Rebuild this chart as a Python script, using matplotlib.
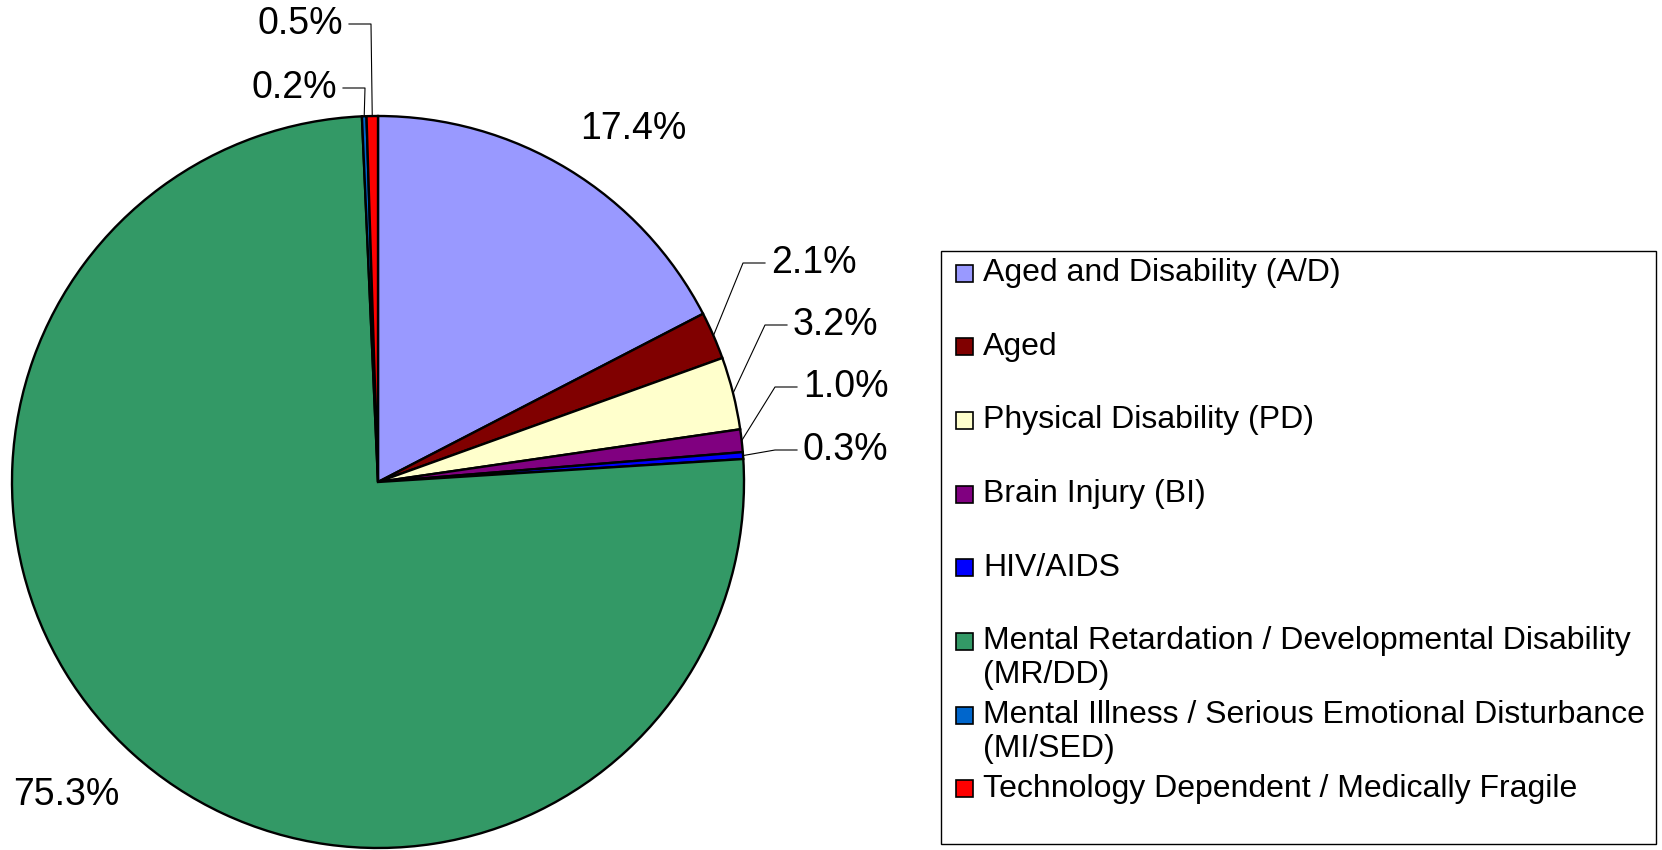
import matplotlib
matplotlib.use("Agg")
from matplotlib import pyplot as plt
from matplotlib.patches import Rectangle
import numpy as np

plt.rcParams['font.family'] = ['Liberation Sans', 'DejaVu Sans']

# data
programs = ['Aged and Disability (A/D)', 'Aged', 'Physical Disability (PD)',
            'Brain Injury (BI)', 'HIV/AIDS',
            'Mental Retardation / Developmental Disability\n(MR/DD)',
            'Mental Illness / Serious Emotional Disturbance\n(MI/SED)',
            'Technology Dependent / Medically Fragile']
shares = [17.4, 2.1, 3.2, 1.0, 0.3, 75.3, 0.2, 0.5]
colors = ['#9999FF', '#800000', '#FFFFCC', '#800080', '#0000FF',
          '#339966', '#0066CC', '#FF0000']

# layout (pixels of the 1662x850 canvas)
W, H = 1662, 850
CX, CY, R = 378, 482, 366
label_pos = [(633, 129, 'center'), (771, 263, 'left'), (793, 325, 'left'),
             (803, 387, 'left'), (803, 450, 'left'), (66, 795, 'center'),
             (337, 88, 'right'), (343, 24, 'right')]
leader = [False, True, True, True, True, False, True, True]


def px(x, y):
    return ((x - CX) / R, (CY - y) / R)


fig = plt.figure(figsize=(W / 100, H / 100), dpi=100)
ax = fig.add_axes([0, 0, 1, 1])

wedges, _ = ax.pie(shares, colors=colors, startangle=90, counterclock=False,
                   radius=1, wedgeprops=dict(edgecolor='black', linewidth=1.7))
ax.set_xlim(-CX / R, (W - CX) / R)
ax.set_ylim(-(H - CY) / R, CY / R)
ax.set_aspect('equal')
ax.axis('off')

# percentage labels with leader lines
for w, val, (lx, ly, ha), lead in zip(wedges, shares, label_pos, leader):
    tx, ty = px(lx, ly)
    ax.text(tx, ty, f"{val:.1f}%", fontsize=27, ha=ha, va='center')
    if lead:
        mid = np.deg2rad((w.theta1 + w.theta2) / 2)
        ex, ey = np.cos(mid), np.sin(mid)
        s = 1 if ha == 'left' else -1
        end_x = tx - s * 6 / R
        elbow_x = end_x - s * 22 / R
        ax.plot([ex, elbow_x, end_x], [ey, ty, ty], color='black', lw=0.8)

# legend box drawn by hand to keep Excel-like spacing
bx, by = px(941, 844)
ax.add_patch(Rectangle((bx, by), 715 / R, 593 / R, facecolor='white',
                       edgecolor='black', lw=1, zorder=3))
for i, (name, c) in enumerate(zip(programs, colors)):
    yc = 273 + i * 73.7
    sx, sy = px(956, yc + 8.5)
    ax.add_patch(Rectangle((sx, sy), 17 / R, 17 / R, facecolor=c,
                           edgecolor='black', lw=1.2, zorder=4))
    for j, line in enumerate(name.split('\n')):
        tx, ty = px(983, yc + j * 34)
        ax.text(tx, ty, line, fontsize=23, ha='left', va='center', zorder=5)

fig.savefig('out.png', dpi=100)
